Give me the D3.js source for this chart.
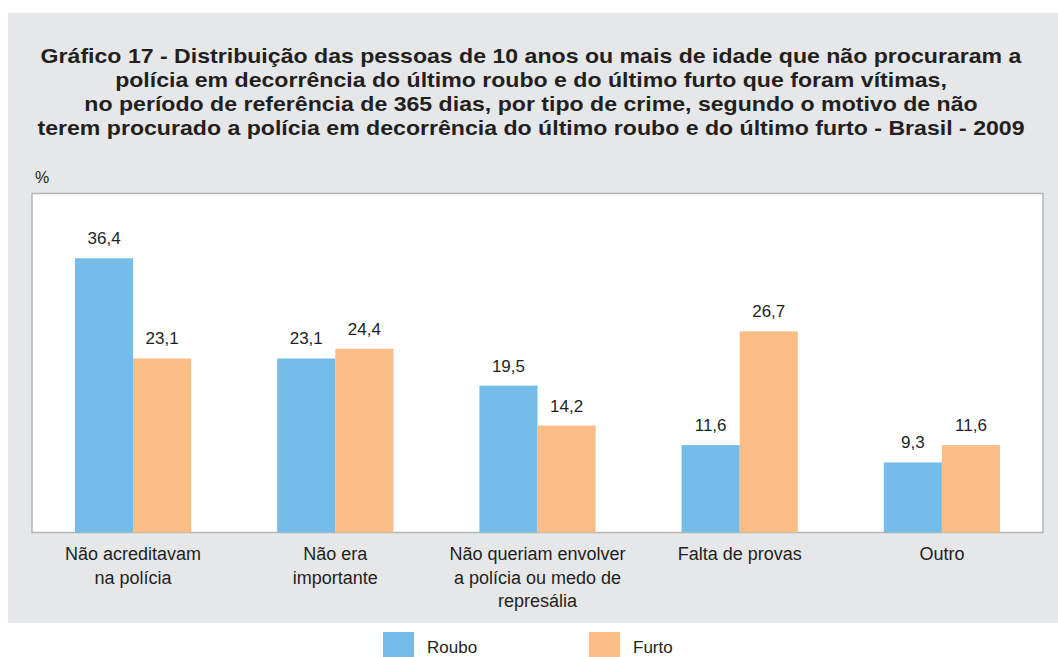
<!DOCTYPE html>
<html>
<head>
<meta charset="utf-8">
<script src="https://cdn.jsdelivr.net/npm/d3@7"></script>
<style>
    body { margin: 0; background: #ffffff; }
    svg { display: block; font-family: "Liberation Sans", Arial, sans-serif; }
</style>
</head>
<body>
<div id="chart"></div>
<script>
const titleLines = [
    "Gráfico 17 - Distribuição das pessoas de 10 anos ou mais de idade que não procuraram a",
    "polícia em decorrência do último roubo e do último furto que foram vítimas,",
    "no período de referência de 365 dias, por tipo de crime, segundo o motivo de não",
    "terem procurado a polícia em decorrência do último roubo e do último furto - Brasil - 2009"
];
const categories = [
    ["Não acreditavam", "na polícia"],
    ["Não era", "importante"],
    ["Não queriam envolver", "a polícia ou medo de", "represália"],
    ["Falta de provas"],
    ["Outro"]
];
const seriesNames = ["Roubo", "Furto"];
const roubo = [36.4, 23.1, 19.5, 11.6, 9.3];
const furto = [23.1, 24.4, 14.2, 26.7, 11.6];
const colors = ["#75bde8", "#fbbd86"];

const width = 1058;
const height = 657;
const plot = { left: 32, right: 1043, top: 193.5, bottom: 532.5 };

const svg = d3.select('#chart')
    .append('svg')
    .attr('width', width)
    .attr('height', height);

// grey panel
svg.append('rect')
    .attr('x', 8).attr('y', 13)
    .attr('width', width - 8).attr('height', 610)
    .attr('fill', '#e6e7e9');

// title (the original face is wider than Liberation Sans, so stretch a bit)
svg.append('g')
    .selectAll('text')
    .data(titleLines)
    .enter()
    .append('text')
    .attr('x', 531)
    .attr('y', (d, i) => 63 + i * 24)
    .attr('text-anchor', 'middle')
    .attr('font-size', 21)
    .attr('font-weight', 'bold')
    .attr('fill', '#231f20')
    .text(d => d)
    .each(function () {
        const w = this.getComputedTextLength();
        d3.select(this)
            .attr('textLength', w * 1.1)
            .attr('lengthAdjust', 'spacingAndGlyphs');
    });

svg.append('text')
    .attr('x', 35).attr('y', 183)
    .attr('font-size', 16)
    .attr('fill', '#231f20')
    .text('%');

// plot frame
svg.append('rect')
    .attr('x', plot.left).attr('y', plot.top)
    .attr('width', plot.right - plot.left).attr('height', plot.bottom - plot.top)
    .attr('fill', '#ffffff')
    .attr('stroke', '#b3b4b6')
    .attr('stroke-width', 1.5);

const data = categories.map((c, i) => ({ idx: i, label: c, values: [roubo[i], furto[i]] }));

const x0 = d3.scaleBand()
    .domain(d3.range(categories.length))
    .range([plot.left, plot.right]);

const x1 = d3.scaleBand()
    .domain([0, 1])
    .range([0, x0.bandwidth()])
    .paddingOuter(0.74);

const y = d3.scaleLinear()
    .domain([0, 45])
    .range([plot.bottom, plot.top]);

const groups = svg.selectAll('.group')
    .data(data)
    .enter()
    .append('g')
    .attr('class', 'group')
    .attr('transform', d => `translate(${x0(d.idx)},0)`);

groups.selectAll('rect')
    .data(d => d.values.map((v, s) => ({ v, s })))
    .enter()
    .append('rect')
    .attr('x', d => x1(d.s))
    .attr('y', d => y(d.v))
    .attr('width', x1.bandwidth())
    .attr('height', d => y(0) - y(d.v))
    .attr('fill', d => colors[d.s]);

groups.selectAll('.val')
    .data(d => d.values.map((v, s) => ({ v, s })))
    .enter()
    .append('text')
    .attr('class', 'val')
    .attr('x', d => x1(d.s) + x1.bandwidth() / 2)
    .attr('y', d => y(d.v) - 14)
    .attr('text-anchor', 'middle')
    .attr('font-size', 17)
    .attr('fill', '#231f20')
    .text(d => d3.format('.1f')(d.v).replace('.', ','));

// category labels
groups.append('text')
    .attr('text-anchor', 'middle')
    .attr('font-size', 18)
    .attr('fill', '#231f20')
    .selectAll('tspan')
    .data(d => d.label)
    .enter()
    .append('tspan')
    .attr('x', x0.bandwidth() / 2)
    .attr('y', (d, i) => 560 + i * 23.5)
    .text(d => d);

// legend
const legend = svg.append('g')
    .selectAll('g')
    .data(seriesNames)
    .enter()
    .append('g')
    .attr('transform', (d, i) => `translate(${383 + i * 206},632)`);

legend.append('rect')
    .attr('width', 31).attr('height', 26)
    .attr('fill', (d, i) => colors[i]);

legend.append('text')
    .attr('x', 44).attr('y', 21)
    .attr('font-size', 17)
    .attr('fill', '#231f20')
    .text(d => d);
</script>
</body>
</html>
